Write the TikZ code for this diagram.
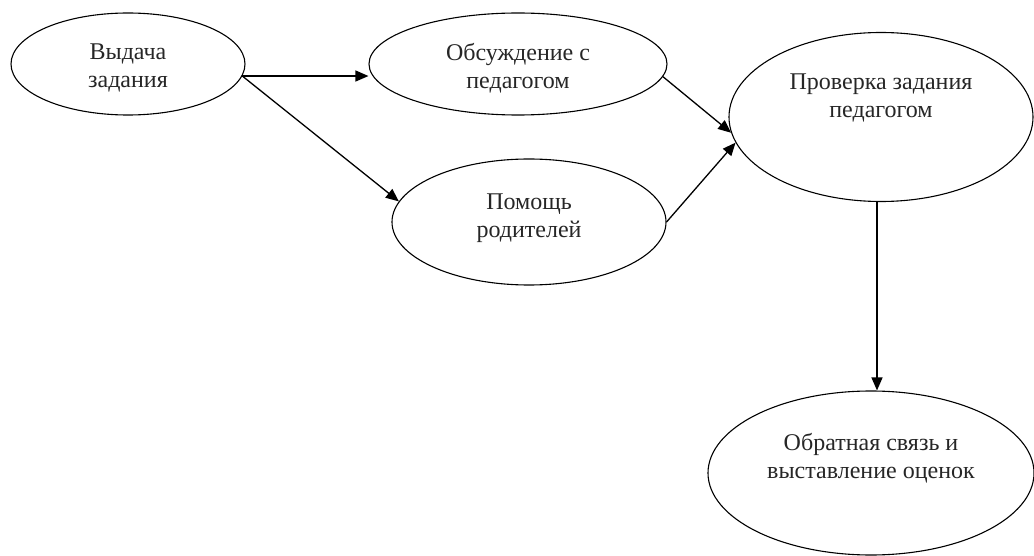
\documentclass[tikz,border=0pt]{standalone}
\usepackage{fontspec}
\setmainfont{Liberation Serif}
\usetikzlibrary{shapes.geometric,arrows.meta}
\begin{document}
\begin{tikzpicture}[x=1pt,y=-1pt,
  ell/.style={draw, ellipse, line width=1.1pt, inner sep=0pt},
  txt/.style={align=center, font=\fontsize{24}{27.5}\selectfont, text=black!85},
  arr/.style={line width=1.3pt, -{Triangle[length=13pt,width=11pt]}}]
\useasboundingbox (0,0) rectangle (1034,556);
\node[ell, minimum width=234pt, minimum height=102pt,
  label={[txt,yshift=-4pt]center:Выдача\\задания}] (e1) at (128,64) {};
\node[ell, minimum width=298pt, minimum height=102pt,
  label={[txt,yshift=-4pt]center:Обсуждение с\\педагогом}] (e2) at (518,64) {};
\node[ell, minimum width=274pt, minimum height=126pt,
  label={[txt,yshift=4pt]center:Помощь\\родителей}] (e3) at (529,222) {};
\node[ell, minimum width=304pt, minimum height=169pt,
  label={[txt,yshift=19pt]center:Проверка задания\\педагогом}] (e4) at (881,117) {};
\node[ell, minimum width=326pt, minimum height=164pt,
  label={[txt,yshift=15pt]center:Обратная связь и\\выставление оценок}] (e5) at (871,473) {};
\draw[arr] (e1.-6) -- (e1.-6 -| e2.west);
\draw[arr] (e1.-6) -- (e3.171);
\draw[arr] (e2.-5) -- (e4.186);
\draw[arr] (e3.east) -- (e4.190);
\draw[arr] ([xshift=-4pt]e4.south) -- ([xshift=-4pt]e4.south |- e5.north);
\end{tikzpicture}
\end{document}
